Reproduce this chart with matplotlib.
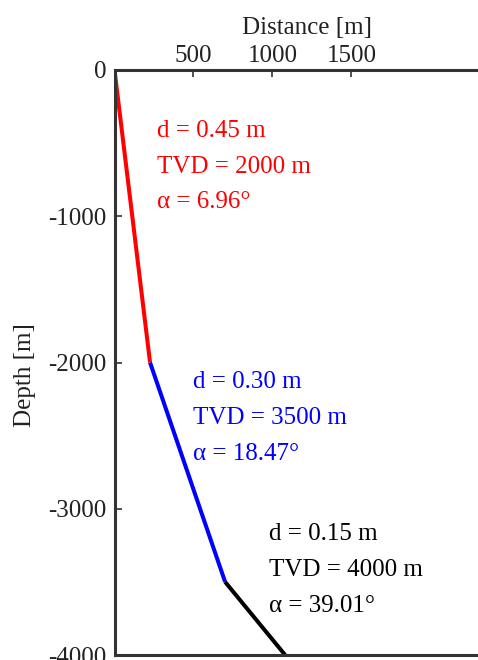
import numpy as np
import matplotlib.pyplot as plt

# well trajectory (distance, depth) in metres
seg_x = [[0, 225], [225, 700], [700, 1080]]
seg_y = [[0, -2000], [-2000, -3500], [-3500, -4000]]
seg_colors = ['#ff0000', '#0000ff', '#000000']
seg_labels = [
    'd = 0.45 m\nTVD = 2000 m\nα = 6.96°',
    'd = 0.30 m\nTVD = 3500 m\nα = 18.47°',
    'd = 0.15 m\nTVD = 4000 m\nα = 39.01°',
]
x_ticks = [500, 1000, 1500]
y_ticks = [0, -1000, -2000, -3000, -4000]


def main():
    plt.rcParams['font.family'] = ['Liberation Serif', 'DejaVu Serif']
    plt.rcParams['axes.unicode_minus'] = False
    fig = plt.figure(figsize=(4.78, 6.6), dpi=100)
    W, H = 478, 660
    ax = fig.add_axes([114.5 / W, 5 / H, (500 - 114.5) / W, 585 / H])

    for xs, ys, c in zip(seg_x, seg_y, seg_colors):
        ax.plot(xs, ys, color=c, lw=2.9, solid_capstyle='butt')

    # text blocks next to each segment
    text_pos = [(270, -660), (497, -2380), (978, -3419)]
    for (tx, ty), lab, c in zip(text_pos, seg_labels, seg_colors):
        ax.text(tx, ty, lab, color=c, fontsize=18, va='center', ha='left',
                linespacing=1.8)

    ax.set_xlim(0, 2440)
    ax.set_ylim(-4000, 0)
    ax.xaxis.tick_top()
    ax.xaxis.set_label_position('top')
    ax.set_xticks(x_ticks)
    ax.set_yticks(y_ticks)
    ax.tick_params(direction='in', length=5, width=1.2, colors='#333333',
                   labelcolor='#222222', labelsize=18)
    ax.tick_params(axis='x', pad=2)
    ax.tick_params(axis='y', pad=6)
    ax.set_xlabel('Distance [m]', fontsize=18, color='#222222', labelpad=8)
    ax.set_ylabel('Depth [m]', fontsize=18, color='#222222')
    ax.yaxis.set_label_coords(-0.204, 0.479)
    for s in ax.spines.values():
        s.set_color('#333333')
        s.set_linewidth(2.2)
    ax.spines['right'].set_visible(False)

    fig.savefig('out.png', dpi=100)


if __name__ == '__main__':
    main()
